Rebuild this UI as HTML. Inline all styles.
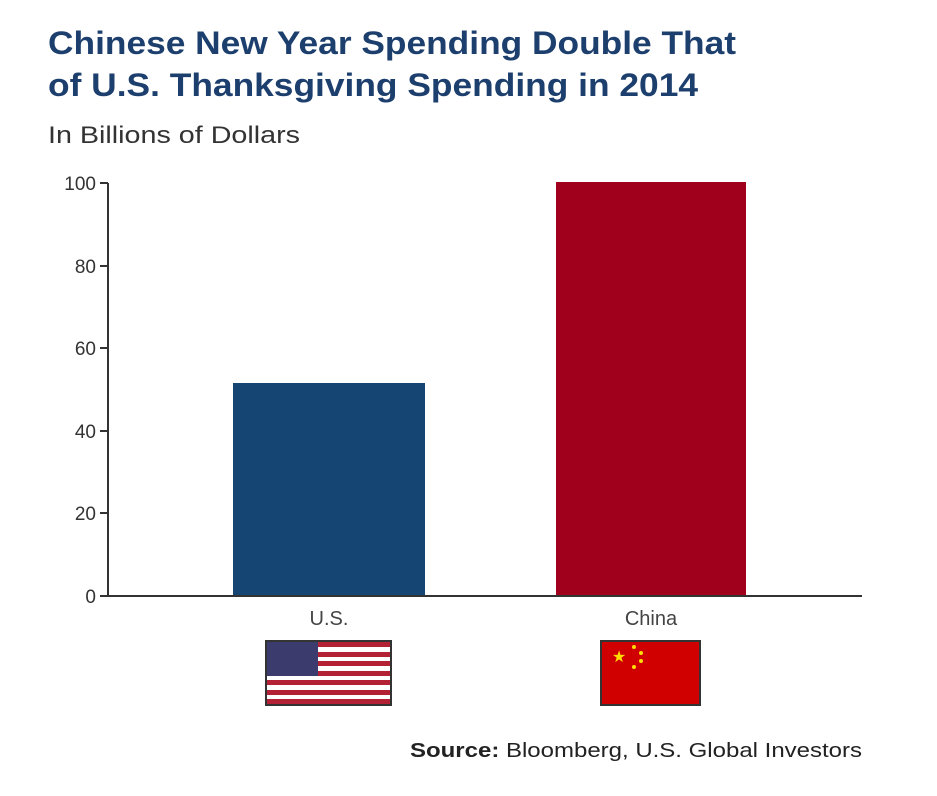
<!DOCTYPE html>
<html><head><style>
body{margin:0;background:#fff;width:937px;height:791px;overflow:hidden;font-family:"Liberation Sans",sans-serif}
</style></head><body>
<svg width="937" height="791" xmlns="http://www.w3.org/2000/svg" font-family="Liberation Sans, sans-serif">
<text x="48" y="54" font-size="32" font-weight="bold" fill="#1d3f6e" textLength="688" lengthAdjust="spacingAndGlyphs">Chinese New Year Spending Double That</text>
<text x="48" y="96" font-size="32" font-weight="bold" fill="#1d3f6e" textLength="650" lengthAdjust="spacingAndGlyphs">of U.S. Thanksgiving Spending in 2014</text>
<text x="48" y="143" font-size="24" fill="#333" textLength="252" lengthAdjust="spacingAndGlyphs">In Billions of Dollars</text>
<g font-size="19" fill="#333" text-anchor="end">
<text x="96" y="190">100</text><text x="96" y="273">80</text><text x="96" y="355">60</text>
<text x="96" y="438">40</text><text x="96" y="520">20</text><text x="96" y="603">0</text>
</g>
<g stroke="#333" stroke-width="2">
<line x1="108" y1="183" x2="108" y2="596"/>
<line x1="100" y1="183" x2="108" y2="183"/><line x1="100" y1="266" x2="108" y2="266"/>
<line x1="100" y1="348" x2="108" y2="348"/><line x1="100" y1="431" x2="108" y2="431"/>
<line x1="100" y1="513" x2="108" y2="513"/>
</g>
<rect x="233" y="383" width="192" height="213" fill="#154673"/>
<rect x="556" y="182" width="190" height="414" fill="#a0001c"/>
<line x1="100" y1="596" x2="862" y2="596" stroke="#333" stroke-width="2"/>
<text x="329" y="625" font-size="20" fill="#444" text-anchor="middle">U.S.</text>
<text x="651" y="625" font-size="20" fill="#444" text-anchor="middle">China</text>
<rect x="265" y="640" width="127" height="66" fill="#333"/>
<g>
<rect x="267" y="642" width="123" height="62" fill="#fff"/>
<rect x="267" y="642" width="123" height="5" fill="#b22234"/>
<rect x="267" y="652" width="123" height="5" fill="#b22234"/>
<rect x="267" y="661" width="123" height="5" fill="#b22234"/>
<rect x="267" y="671" width="123" height="5" fill="#b22234"/>
<rect x="267" y="680" width="123" height="5" fill="#b22234"/>
<rect x="267" y="690" width="123" height="5" fill="#b22234"/>
<rect x="267" y="699" width="123" height="5" fill="#b22234"/>
<rect x="267" y="642" width="51" height="34" fill="#3c3b6e"/>
</g>
<rect x="600" y="640" width="101" height="66" fill="#333"/>
<rect x="602" y="642" width="97" height="62" fill="#d00000"/>
<text x="619" y="662" font-size="16" fill="#ffde00" text-anchor="middle">★</text>
<g fill="#ffde00"><circle cx="634" cy="647" r="2"/><circle cx="641" cy="653" r="2"/><circle cx="641" cy="661" r="2"/><circle cx="634" cy="667" r="2"/></g>
<text x="862" y="757" font-size="20" fill="#222" text-anchor="end" textLength="452" lengthAdjust="spacingAndGlyphs"><tspan font-weight="bold">Source:</tspan> Bloomberg, U.S. Global Investors</text>
</svg>
</body></html>
